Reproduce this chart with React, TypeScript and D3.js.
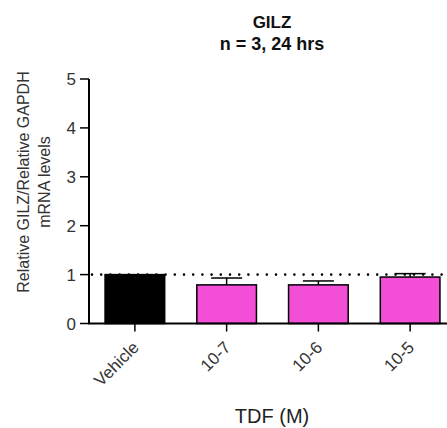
import React from "react";
import * as d3 from "d3";

const categories = ["Vehicle", "10-7", "10-6", "10-5"];
const means = [1.0, 0.79, 0.79, 0.95];
const upperErr = [1.0, 0.93, 0.87, 1.02];
const barColors = ["#000000", "#F24ED8", "#F24ED8", "#F24ED8"];
const yTicks = [0, 1, 2, 3, 4, 5];

const W = 447;
const H = 428;
const left = 89;
const right = 456;
const yTop = 79;
const yBase = 323.5;
const font = "'Liberation Sans', Arial, Helvetica, sans-serif";

export default function App() {
  const x = d3.scaleBand<string>().domain(categories).range([left, right]).paddingInner(0.35).paddingOuter(0.175);
  const y = d3.scaleLinear().domain([0, 5]).range([yBase, yTop]);
  const bw = x.bandwidth();
  const capW = 31;
  return (
    <svg width={W} height={H} style={{ position: "absolute", left: 0, top: 0, background: "#fff" }} fontFamily={font}>
      <text x={272} y={28} textAnchor="middle" fontSize={17} fontWeight="bold" fill="#111">GILZ</text>
      <text x={272} y={50} textAnchor="middle" fontSize={18} fontWeight="bold" fill="#111">n = 3, 24 hrs</text>

      <text transform={`translate(29,182) rotate(-90)`} textAnchor="middle" fontSize={16} fill="#333">Relative GILZ/Relative GAPDH</text>
      <text transform={`translate(50,182) rotate(-90)`} textAnchor="middle" fontSize={16} fill="#333">mRNA levels</text>

      {categories.map((c, i) => {
        const bx = x(c)!;
        const cx = bx + bw / 2;
        return (
          <g key={c}>
            {upperErr[i] > means[i] && (
              <g stroke="#000" strokeWidth={1.5}>
                <line x1={cx} x2={cx} y1={y(means[i])} y2={y(upperErr[i])} />
                <line x1={cx - capW / 2} x2={cx + capW / 2} y1={y(upperErr[i])} y2={y(upperErr[i])} />
              </g>
            )}
            <rect x={bx} y={y(means[i])} width={bw} height={yBase - y(means[i])} fill={barColors[i]} stroke="#000" strokeWidth={1.5} />
          </g>
        );
      })}

      <line x1={left + 3} x2={W} y1={y(1)} y2={y(1)} stroke="#000" strokeWidth={2.6} strokeDasharray="0 9.2" strokeLinecap="round" />

      <line x1={left} x2={left} y1={yTop} y2={yBase} stroke="#000" strokeWidth={2} />
      <line x1={left - 1} x2={right} y1={yBase} y2={yBase} stroke="#000" strokeWidth={2} />
      {yTicks.map((t) => (
        <g key={t}>
          <line x1={left - 9} x2={left} y1={y(t)} y2={y(t)} stroke="#000" strokeWidth={1.5} />
          <text x={left - 13} y={y(t)} dy="0.36em" textAnchor="end" fontSize={17} fill="#333">{t}</text>
        </g>
      ))}
      {categories.map((c) => {
        const cx = x(c)! + bw / 2;
        return (
          <g key={c}>
            <line x1={cx} x2={cx} y1={yBase} y2={yBase + 8} stroke="#000" strokeWidth={1.5} />
            <text transform={`translate(${cx + 5},${yBase + 25}) rotate(-45)`} textAnchor="end" fontSize={17} fill="#333">{c}</text>
          </g>
        );
      })}
      <text x={272} y={423} textAnchor="middle" fontSize={20} fill="#222">TDF (M)</text>
    </svg>
  );
}
